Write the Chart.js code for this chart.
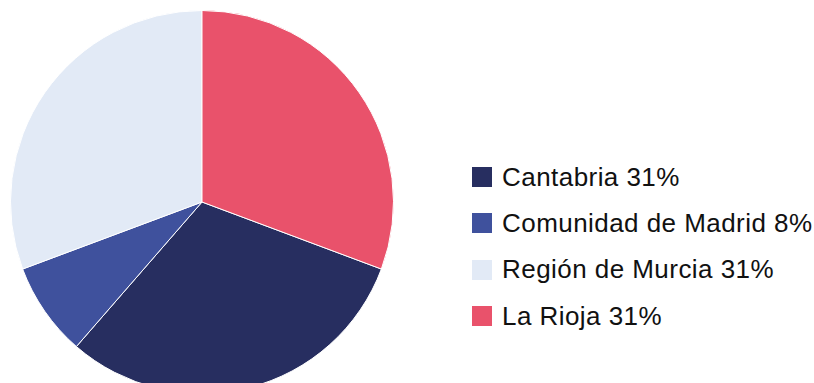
<!DOCTYPE html>
<html>
<head>
<meta charset="utf-8">
<script src="https://cdn.jsdelivr.net/npm/chart.js@4"></script>
<style>
    html, body { margin: 0; padding: 0; background: #fff; overflow: hidden; }
    #wrap { position: relative; width: 814px; height: 383px; overflow: hidden; }
    #pieBox { position: absolute; left: 0; top: 0; width: 404px; height: 400px; }
    #legend {
        position: absolute; left: 472px; top: 154px;
        margin: 0; padding: 0; list-style: none;
        font-family: "Liberation Sans", Arial, sans-serif; font-size: 26px; letter-spacing: 0.45px; color: #111;
    }
    #legend li { display: flex; align-items: center; height: 46.3px; white-space: nowrap; }
    #legend .box { width: 20px; height: 20px; margin-right: 10px; flex: none; }
</style>
</head>
<body>
<div id="wrap">
    <div id="pieBox"><canvas id="pieChart"></canvas></div>
    <ul id="legend"></ul>
</div>
<script>
const regions = ['Cantabria', 'Comunidad de Madrid', 'Región de Murcia', 'La Rioja'];
const shares = [31, 8, 31, 31];
const colors = ['#272E60', '#3F519D', '#E2EAF6', '#E9526B'];

const total = shares.reduce((a, b) => a + b, 0);
// La Rioja sits at twelve o'clock, so the first slice starts where it ends
const startAngle = shares[shares.length - 1] / total * 360;

const renderLegend = () => {
    const legend = document.getElementById('legend');
    legend.innerHTML = '';
    regions.forEach((name, pos) => {
        const item = document.createElement('li');
        item.innerHTML = `<span class="box" style="background:${colors[pos]}"></span><span>${name} ${shares[pos]}%</span>`;
        legend.appendChild(item);
    });
}

const chart = new Chart(document.getElementById('pieChart').getContext('2d'), {
    type: 'pie',
    data: {
        labels: regions,
        datasets: [{
            data: shares,
            backgroundColor: colors,
            borderColor: '#ffffff',
            borderWidth: 1
        }]
    },
    options: {
        responsive: true,
        maintainAspectRatio: false,
        animation: false,
        rotation: startAngle,
        layout: { padding: { top: 10, bottom: 6, left: 10, right: 10 } },
        plugins: {
            legend: { display: false },
            tooltip: { enabled: false }
        }
    }
});

renderLegend();
</script>
</body>
</html>
